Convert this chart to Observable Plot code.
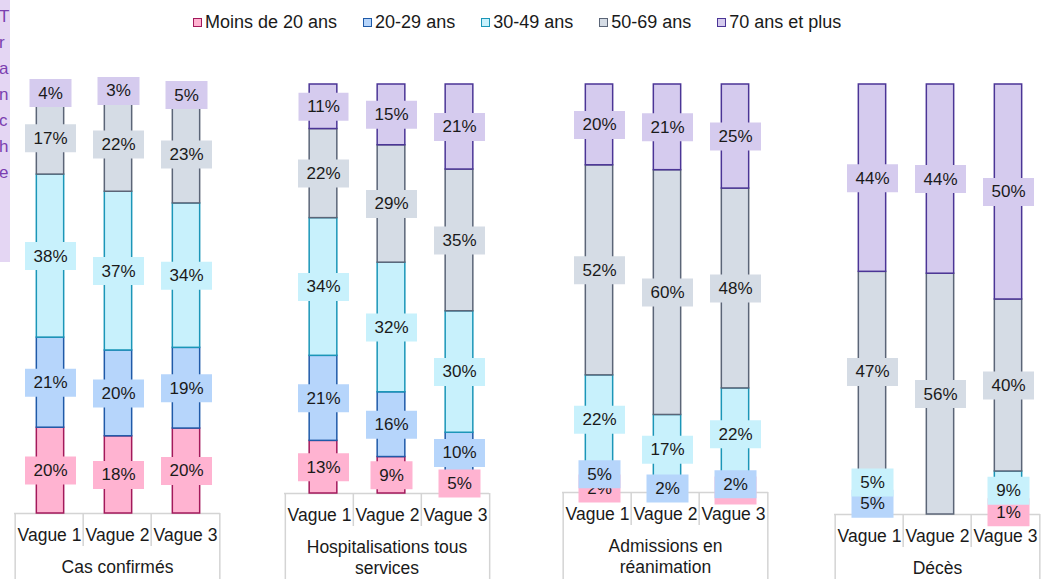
<!DOCTYPE html>
<html>
<head>
<meta charset="utf-8">
<script src="https://cdn.jsdelivr.net/npm/d3@7"></script>
<script src="https://cdn.jsdelivr.net/npm/@observablehq/plot@0.6"></script>
<style>
  body { margin: 0; background: #fff; font-family: "Liberation Sans", Arial, sans-serif; color: #1a1a1a; }
  #chart { position: relative; width: 1056px; height: 579px; overflow: hidden; }
  #side { position: absolute; left: 0; top: 0; width: 10px; height: 262px; background: #e4d6f3; overflow: hidden; }
  #side span { position: absolute; left: -1px; top: 4px; width: 12px; word-break: break-all; font-size: 17px; line-height: 26px; color: #7b3fb0; }
  #legend { position: absolute; left: 193px; top: 11px; display: flex; gap: 26px; font-size: 18px; line-height: 22px; }
  #legend .item { display: flex; align-items: center; gap: 3px; white-space: nowrap; }
  #legend .sw { width: 7px; height: 7px; border: 1.5px solid; }
  .panel { position: absolute; top: 44px; }
</style>
</head>
<body>
<div id="chart">
  <div id="side"><span>Tranche</span></div>
  <div id="legend"></div>
</div>
<script>
// Categories
const waves = ["Vague 1", "Vague 2", "Vague 3"];
const ageGroups = ["Moins de 20 ans", "20-29 ans", "30-49 ans", "50-69 ans", "70 ans et plus"];
const indicators = ["Cas confirmés", "Hospitalisations tous\nservices", "Admissions en\nréanimation", "Décès"];

// Share of each age group (%), one row per wave, columns in ageGroups order
const casConfirmes = [[20, 21, 38, 17, 4], [18, 20, 37, 22, 3], [20, 19, 34, 23, 5]];
const hospitalisations = [[13, 21, 34, 22, 11], [9, 16, 32, 29, 15], [5, 10, 30, 35, 21]];
const reanimation = [[2, 5, 22, 52, 20], [0, 2, 17, 60, 21], [1, 2, 22, 48, 25]];
const deces = [[0, 5, 5, 47, 44], [0, 0, 0, 56, 44], [1, 0, 9, 40, 50]];

// Styles
const fills = ["#ffb3d1", "#b6d5fb", "#c8f1fc", "#d5dce5", "#d5cbee"];
const strokes = ["#a3195b", "#1f5aa8", "#1b96b8", "#5b6577", "#4b3596"];
const gridColor = "#d4d4d4";
const FONT = '"Liberation Sans", Arial, sans-serif';
const LABEL_SIZE = 17;

// Panel layout: frame left/right on the page, baseline of the bars, bar nudge
const layout = [
  {left: 14, right: 220, base: 513, shift: 1},
  {left: 284, right: 489, base: 493, shift: 4},
  {left: 562, right: 768, base: 492, shift: 2},
  {left: 834, right: 1040, base: 514, shift: 3}
];
const panelData = [casConfirmes, hospitalisations, reanimation, deces];

const PAGE_H = 579, SVG_TOP = 44, BAR_TOP = 84, PAD = 10;

// Legend
const legend = d3.select("#legend");
ageGroups.forEach((a, i) => {
  const item = legend.append("div").attr("class", "item");
  item.append("div").attr("class", "sw").style("background", fills[i]).style("border-color", strokes[i]);
  item.append("span").text(a);
});

// Text measuring for the label boxes
const ctx = document.createElement("canvas").getContext("2d");
ctx.font = `${LABEL_SIZE}px ${FONT}`;
function boxSymbol(text) {
  const w = Math.round(ctx.measureText(text).width) + 17, h = 28;
  return {draw(p) { p.rect(-w / 2, -h / 2, w, h); }};
}

// 100% stacking: each wave normalised to its own total
function stackRows(values) {
  const rows = [];
  waves.forEach((wave, w) => {
    const total = d3.sum(values[w]);
    let acc = 0;
    ageGroups.forEach((age, a) => {
      const v = values[w][a];
      rows.push({wave, age, a, value: v, y1: acc / total, y2: (acc + v) / total, label: `${v}%`});
      acc += v;
    });
  });
  return rows.filter((d) => d.value > 0);
}

panelData.forEach((values, p) => {
  const L = layout[p];
  const rows = stackRows(values);
  const width = L.right - L.left + 2 * PAD;
  const height = PAGE_H - SVG_TOP;
  const marginBottom = PAGE_H - L.base;
  const bw = (L.right - L.left) / waves.length;
  const inset = (bw - 28) / 2;

  // one box + text layer per age group, so later groups sit on top
  const labelMarks = ageGroups.flatMap((age, a) => {
    const sub = rows.filter((d) => d.a === a);
    return [
      Plot.dot(sub, {x: "wave", y: (d) => (d.y1 + d.y2) / 2, dx: L.shift, symbol: (d) => boxSymbol(d.label), fill: fills[a], stroke: "none"}),
      Plot.text(sub, {x: "wave", y: (d) => (d.y1 + d.y2) / 2, dx: L.shift, text: "label", fontSize: LABEL_SIZE, fill: "#1a1a1a"})
    ];
  });

  const svg = Plot.plot({
    width, height,
    marginTop: BAR_TOP - SVG_TOP,
    marginBottom,
    marginLeft: PAD, marginRight: PAD,
    x: {domain: waves, padding: 0, axis: null},
    y: {domain: [0, 1], axis: null},
    style: {fontFamily: FONT, fontSize: "17px", color: "#1a1a1a", background: "transparent", overflow: "visible"},
    marks: [
      // category axis box
      Plot.ruleY([0], {stroke: gridColor, strokeWidth: 1.5}),
      Plot.ruleX(waves.slice(1), {x: (d) => d, dx: -bw / 2, y1: 0, y2: 0, insetBottom: -33, stroke: gridColor, strokeWidth: 1.5}),
      Plot.ruleX([waves[0]], {x: (d) => d, dx: -bw / 2, y1: 0, y2: 0, insetBottom: -marginBottom, stroke: gridColor, strokeWidth: 1.5}),
      Plot.ruleX([waves[waves.length - 1]], {x: (d) => d, dx: bw / 2, y1: 0, y2: 0, insetBottom: -marginBottom, stroke: gridColor, strokeWidth: 1.5}),
      // stacked bars
      Plot.barY(rows, {x: "wave", y1: "y1", y2: "y2", dx: L.shift, insetLeft: inset, insetRight: inset,
        fill: (d) => fills[d.a], stroke: (d) => strokes[d.a], strokeWidth: 1.5}),
      ...labelMarks,
      Plot.axisX({tickSize: 0, tickPadding: 15, fontSize: 17.5, label: null}),
      Plot.text([indicators[p]], {text: (d) => d, frameAnchor: "bottom", lineAnchor: "top", dy: 44, fontSize: 17.5, lineHeight: 1.22})
    ]
  });
  svg.classList.add("panel");
  svg.style.left = `${L.left - PAD}px`;
  document.getElementById("chart").appendChild(svg);
});
</script>
</body>
</html>
